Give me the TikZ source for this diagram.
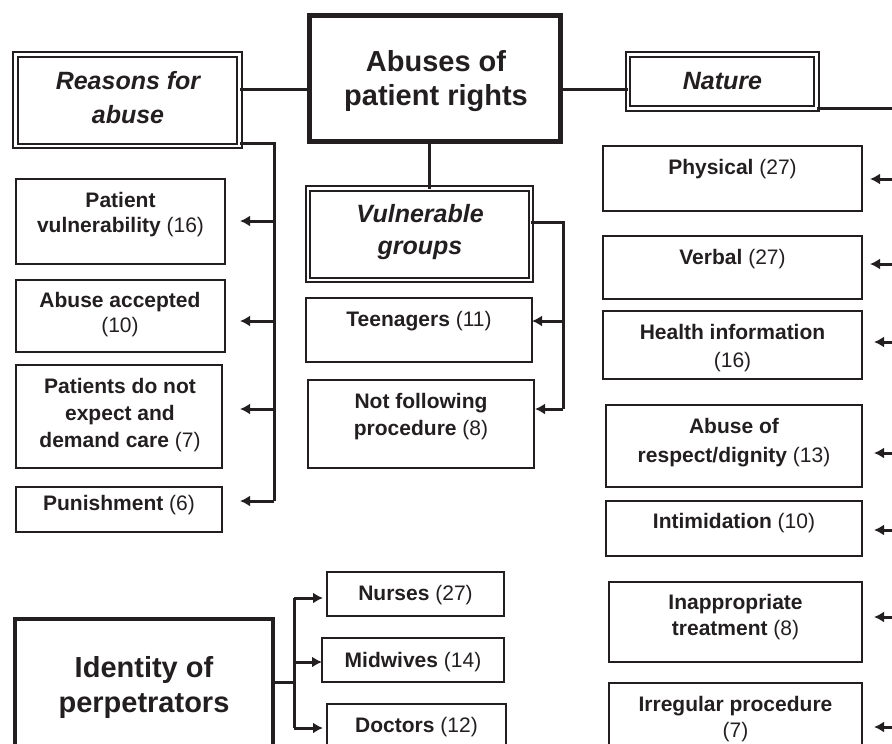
\documentclass[tikz,border=0pt]{standalone}
\usepackage{fontspec}
\setmainfont{Liberation Sans}
\usetikzlibrary{arrows.meta,fit}
\definecolor{ink}{RGB}{35,31,32}
\begin{document}
\begin{tikzpicture}[x=1pt,y=-1pt,
  every node/.style={inner sep=0pt, outer sep=0pt, text=ink},
  box/.style={draw=ink, line width=1.3pt},
  dbox/.style={draw=ink, double=white, double distance=2.6pt, line width=1.8pt},
  tbox/.style={draw=ink, line width=4.5pt},
  lbl/.style={align=center, anchor=base, font=\fontsize{21}{#1}\selectfont},
  lbl/.default=26.5,
  hdi/.style={align=center, anchor=base, font=\fontsize{25}{#1}\selectfont\bfseries\itshape},
  hdi/.default=34,
  hdm/.style={align=center, anchor=base, font=\fontsize{29}{#1}\selectfont\bfseries},
  hdm/.default=34.5,
  conn/.style={draw=ink, line width=3pt},
  arr/.style={conn, -{Latex[length=10pt,width=11pt]}},
]
\useasboundingbox (0,0) rectangle (892,744);
\clip (0,0) rectangle (892,744);

% ---- headings (multi-line labels: anchor at the baseline of the last line)
\node[tbox, fit={(309.5,15.5) (560.5,141.5)}] (main) {};
\node[hdm] (tmain) at (436,105.5) {Abuses of\\patient rights};
\node[dbox, fit={(15.5,54.5) (239.5,146)}] (rea) {};
\node[hdi] (trea) at (128,123) {Reasons for\\abuse};
\node[dbox, fit={(628,54.5) (816.5,108.5)}] (nat) {};
\node[hdi] (tnat) at (722.5,89) {Nature};
\node[dbox, fit={(308,188.5) (531,280)}] (vul) {};
\node[hdi=32] (tvul) at (420,254) {Vulnerable\\groups};
\node[tbox, fit={(15,619) (273,790)}] (idn) {};
\node[hdm=35] (tidn) at (144,712) {Identity of\\perpetrators};

% ---- reasons
\node[box, fit={(16,179) (225,264)}] (pv) {};
\node[lbl=25] (tpv) at (120.5,232) {\textbf{Patient}\\\textbf{vulnerability} (16)};
\node[box, fit={(16,280) (225,352)}] (aa) {};
\node[lbl=25] (taa) at (120,332) {\textbf{Abuse accepted}\\(10)};
\node[box, fit={(16,365) (222,468)}] (pd) {};
\node[lbl=27] (tpd) at (120,447) {\textbf{Patients do not}\\\textbf{expect and}\\\textbf{demand care} (7)};
\node[box, fit={(16,487) (222,532)}] (pu) {};
\node[lbl] (tpu) at (119,510) {\textbf{Punishment} (6)};

% ---- vulnerable groups
\node[box, fit={(306,298) (532,362)}] (te) {};
\node[lbl] (tte) at (419,326) {\textbf{Teenagers} (11)};
\node[box, fit={(308,380) (534,468)}] (nf) {};
\node[lbl=27] (tnf) at (421,435) {\textbf{Not following}\\\textbf{procedure} (8)};

% ---- nature
\node[box, fit={(603,146) (862,211)}] (ph) {};
\node[lbl] (tph) at (732.5,174) {\textbf{Physical} (27)};
\node[box, fit={(603,236) (862,299)}] (ve) {};
\node[lbl] (tve) at (732.5,264) {\textbf{Verbal} (27)};
\node[box, fit={(603,311) (862,379)}] (he) {};
\node[lbl=28] (the) at (732.5,367) {\textbf{Health information}\\(16)};
\node[box, fit={(606,405) (862,487)}] (ar) {};
\node[lbl=29] (tar) at (734,462) {\textbf{Abuse of}\\\textbf{respect/dignity} (13)};
\node[box, fit={(606,501) (862,556)}] (im) {};
\node[lbl] (tim) at (734,528) {\textbf{Intimidation} (10)};
\node[box, fit={(609,582) (862,662)}] (ip) {};
\node[lbl=26] (tip) at (735.5,635) {\textbf{Inappropriate}\\\textbf{treatment} (8)};
\node[box, fit={(609,683) (862,790)}] (ir) {};
\node[lbl=26] (tir) at (735.5,737) {\textbf{Irregular procedure}\\(7)};

% ---- perpetrators
\node[box, fit={(327,572) (504,616)}] (nu) {};
\node[lbl] (tnu) at (415.5,600) {\textbf{Nurses} (27)};
\node[box, fit={(322,638) (504,682)}] (mi) {};
\node[lbl] (tmi) at (413,667) {\textbf{Midwives} (14)};
\node[box, fit={(327,704) (506,790)}] (dc) {};
\node[lbl] (tdc) at (416.5,732) {\textbf{Doctors} (12)};

% ---- connectors among headings
\coordinate (hy) at (0,89);
\draw[conn] (rea.east |- hy) -- (main.west |- hy);
\draw[conn] (main.east |- hy) -- (nat.west |- hy);
\draw[conn] (nat.south east) -- ++(90,0);
\coordinate (vx) at (429,0);
\draw[conn] (main.south -| vx) -- (vul.north -| vx);

% ---- reasons bus
\coordinate (rb) at (274,143);
\coordinate (r1) at (274,221);
\coordinate (r2) at (274,321);
\coordinate (r3) at (274,409);
\coordinate (r4) at (274,501);
\draw[conn] (rea.east |- rb) -- (rb) -- (r4);
\draw[arr, shorten >=15pt] (r1) -- (r1 -| pv.east);
\draw[arr, shorten >=15pt] (r2) -- (r2 -| aa.east);
\draw[arr, shorten >=18pt] (r3) -- (r3 -| pd.east);
\draw[arr, shorten >=18pt] (r4) -- (r4 -| pu.east);

% ---- vulnerable bus
\coordinate (v0) at (563,222);
\coordinate (v1) at (563,321);
\coordinate (v2) at (563,409);
\draw[conn] (vul.east |- v0) -- (v0) -- (v2);
\draw[arr] (v1) -- (v1 -| te.east);
\draw[arr, shorten >=1pt] (v2) -- (v2 -| nf.east);

% ---- perpetrators bus
\coordinate (ib) at (294,682);
\coordinate (i1) at (294,598);
\coordinate (i2) at (294,662);
\coordinate (i3) at (294,728);
\draw[conn] (idn.east |- ib) -- (ib);
\draw[conn] (i1) -- (i3);
\draw[arr, shorten >=4pt] (i1) -- (i1 -| nu.west);
\draw[arr] (i2) -- (i2 -| mi.west);
\draw[arr, shorten >=4pt] (i3) -- (i3 -| dc.west);

% ---- nature stubs (their bus lies beyond the right edge)
\coordinate (n1) at (895,179);
\coordinate (n2) at (895,264);
\coordinate (n3) at (895,342);
\coordinate (n4) at (895,453);
\coordinate (n5) at (895,530);
\coordinate (n6) at (895,617);
\coordinate (n7) at (895,727);
\draw[arr, shorten >=8pt] (n1) -- (n1 -| ph.east);
\draw[arr, shorten >=8pt] (n2) -- (n2 -| ve.east);
\draw[arr, shorten >=12pt] (n3) -- (n3 -| he.east);
\draw[arr, shorten >=12pt] (n4) -- (n4 -| ar.east);
\draw[arr, shorten >=12pt] (n5) -- (n5 -| im.east);
\draw[arr, shorten >=12pt] (n6) -- (n6 -| ip.east);
\draw[arr, shorten >=12pt] (n7) -- (n7 -| ir.east);
\end{tikzpicture}
\end{document}
